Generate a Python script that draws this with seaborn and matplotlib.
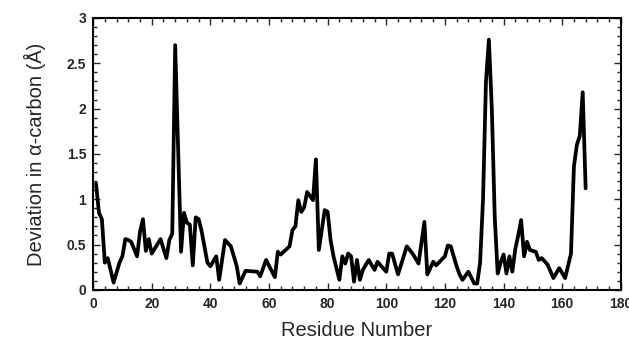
import matplotlib
matplotlib.use("Agg")
import matplotlib.pyplot as plt
from matplotlib.ticker import MultipleLocator
import seaborn as sns
import pandas as pd

residue = [1, 2, 3, 4, 5, 7, 9, 10, 11, 12, 13, 15, 16, 17, 18, 19, 20, 23, 25, 26,
           27, 28, 30, 31, 32, 33, 34, 35, 36, 37, 39, 40, 42, 43, 45, 47, 49, 50, 52, 56,
           57, 59, 62, 63, 64, 67, 68, 69, 70, 71, 72, 73, 75, 76, 77, 79, 80, 81, 82, 84,
           85, 86, 87, 88, 89, 90, 91, 92, 94, 96, 97, 100, 101, 102, 104, 107, 109, 111, 113, 114,
           116, 117, 120, 121, 122, 124, 125, 126, 128, 130, 131, 132, 133, 134, 135, 136, 137, 138, 139, 140,
           141, 142, 143, 144, 145, 146, 147, 148, 149, 151, 152, 153, 155, 157, 159, 161, 163, 164, 165, 166,
           167, 168]
deviation = [1.17, 0.85, 0.78, 0.30, 0.35, 0.08, 0.30, 0.37, 0.56, 0.55, 0.53, 0.37, 0.64, 0.78, 0.43, 0.56, 0.40, 0.56, 0.35, 0.55,
             0.62, 2.70, 0.42, 0.85, 0.74, 0.72, 0.27, 0.80, 0.78, 0.65, 0.30, 0.26, 0.37, 0.11, 0.55, 0.48, 0.26, 0.07, 0.21, 0.20,
             0.15, 0.33, 0.14, 0.42, 0.39, 0.48, 0.66, 0.70, 0.99, 0.86, 0.91, 1.08, 0.99, 1.44, 0.44, 0.88, 0.86, 0.55, 0.37, 0.11,
             0.37, 0.29, 0.40, 0.37, 0.09, 0.33, 0.11, 0.22, 0.33, 0.22, 0.31, 0.20, 0.40, 0.40, 0.17, 0.48, 0.40, 0.29, 0.75, 0.17,
             0.31, 0.27, 0.37, 0.49, 0.48, 0.26, 0.17, 0.11, 0.20, 0.07, 0.07, 0.30, 1.00, 2.30, 2.76, 2.00, 0.80, 0.18, 0.30, 0.39,
             0.18, 0.37, 0.20, 0.45, 0.60, 0.77, 0.37, 0.53, 0.44, 0.42, 0.33, 0.35, 0.28, 0.13, 0.24, 0.13, 0.40, 1.36, 1.60, 1.70,
             2.18, 1.12]

df = pd.DataFrame({"Residue": residue, "Deviation": deviation})

sns.set_style("ticks")
plt.rcParams["font.family"] = ["Liberation Sans", "DejaVu Sans"]

fig = plt.figure(figsize=(6.29, 3.39), dpi=100)
ax = fig.add_axes([0.148, 0.145, 0.839, 0.802])

sns.lineplot(data=df, x="Residue", y="Deviation", ax=ax, color="black",
             linewidth=2.7, estimator=None, sort=False)

ax.set_xlim(0, 180)
ax.set_ylim(0, 3)
ax.xaxis.set_major_locator(MultipleLocator(20))
ax.xaxis.set_minor_locator(MultipleLocator(4))
ax.yaxis.set_minor_locator(MultipleLocator(0.1))
ax.set_yticks([0, 0.5, 1, 1.5, 2, 2.5, 3])
ax.set_yticklabels(["0", "0.5", "1", "1.5", "2", "2.5", "3"])

ax.tick_params(which="both", direction="in", top=True, right=True, width=1.0)
ax.tick_params(which="major", length=5, labelsize=10, pad=5)
ax.tick_params(which="minor", length=3)
for lab in ax.get_xticklabels() + ax.get_yticklabels():
    lab.set_fontweight("bold")

for s in ax.spines.values():
    s.set_visible(True)
    s.set_linewidth(1.5)
    s.set_color("black")

ax.set_xlabel("Residue Number", fontsize=14.5, labelpad=7)
ax.set_ylabel("Deviation in \u03b1-carbon (\u00c5)", fontsize=14.5, labelpad=15)

fig.savefig("out.png", dpi=100)
